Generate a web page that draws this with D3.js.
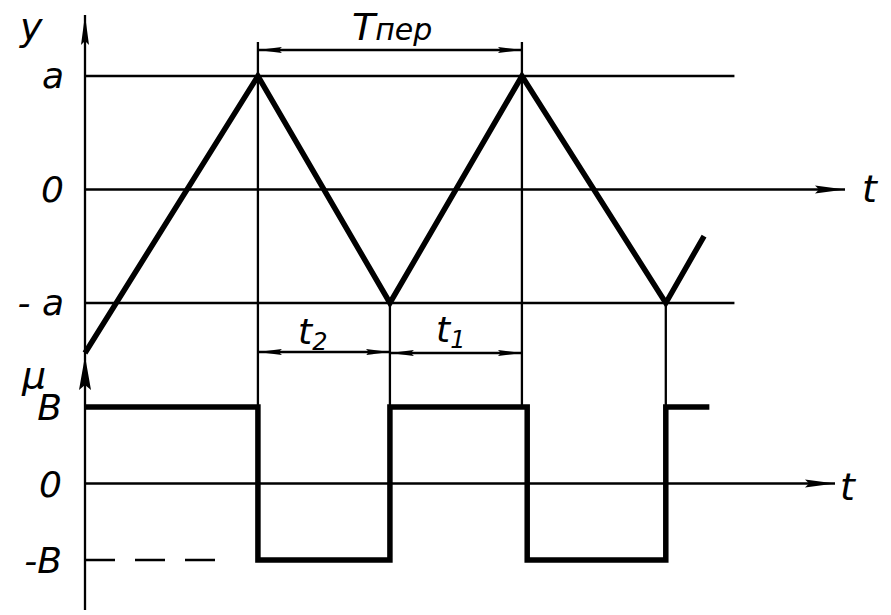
<!DOCTYPE html>
<html><head><meta charset="utf-8">
<script src="https://cdn.jsdelivr.net/npm/d3@7"></script>
<style>body{margin:0;background:#fff}svg{display:block}text{font-family:"DejaVu Sans",sans-serif;font-style:italic;fill:#000}</style>
</head><body>
<script>
// Triangle wave y(t): vertices (time units, amplitude in units of a)
const triT = [0, 1.31, 2.31, 3.31, 4.40, 4.69];
const triY = [-1.44, 1, -1, 1, -1, -0.41];
// Square wave μ(t): switching instants and levels (units of B)
const sqT = [0, 1.31, 2.31, 3.35, 4.40, 4.73];
const sqY = [1, -1, 1, -1, 1];
// Level lines / tick labels
const topTicks = [{v:1,l:"a"},{v:0,l:"0"},{v:-1,l:"- a"}];
const botTicks = [{v:1,l:"B"},{v:0,l:"0"},{v:-1,l:"-B"}];
const periodMarks = {T:[1.31,3.31], t2:[1.31,2.31], t1:[2.31,3.31]};

const W=891,H=615;
const svg=d3.select("body").append("svg").attr("width",W).attr("height",H);
const x=d3.scaleLinear().domain([0,5]).range([85,745]);
const yT=d3.scaleLinear().domain([-1,1]).range([303,76]);
const yB=d3.scaleLinear().domain([-1,1]).range([560,407]);

const defs=svg.append("defs");
defs.append("marker").attr("id","arr").attr("viewBox","0 0 24 8").attr("refX",24).attr("refY",4)
 .attr("markerWidth",24).attr("markerHeight",8).attr("markerUnits","userSpaceOnUse").attr("orient","auto-start-reverse")
 .append("path").attr("d","M0,1 L24,4 L0,7 L3,4 Z").attr("fill","#000");
defs.append("marker").attr("id","big").attr("viewBox","0 0 30 10").attr("refX",30).attr("refY",5)
 .attr("markerWidth",30).attr("markerHeight",10).attr("markerUnits","userSpaceOnUse").attr("orient","auto")
 .append("path").attr("d","M0,1 L30,5 L0,9 L4,5 Z").attr("fill","#000");

const thin=2.3, thick=5.5;
function line(x1,y1,x2,y2,w,extra){const l=svg.append("line").attr("x1",x1).attr("y1",y1).attr("x2",x2).attr("y2",y2)
 .attr("stroke","#000").attr("stroke-width",w).attr("stroke-linecap","butt");if(extra)extra(l);return l;}

// level lines (upper)
line(x(0),yT(1),x(4.92),yT(1),thin);
line(x(0),yT(-1),x(4.92),yT(-1),thin);
line(x(0),yT(0),845,yT(0),thin,l=>l.attr("marker-end","url(#big)"));
// lower zero axis
line(x(0),yB(0),835,yB(0),thin,l=>l.attr("marker-end","url(#big)"));
// dashed -B
line(x(0),yB(-1),235,yB(-1),thin,l=>l.attr("stroke-dasharray","30,20"));

// vertical axis
line(x(0),610,x(0),15,thin,l=>l.attr("marker-end","url(#big)"));

// extension lines
line(x(periodMarks.T[0]),42,x(periodMarks.T[0]),yB(1),thin);
line(x(periodMarks.T[1]),42,x(periodMarks.T[1]),yB(1),thin);
line(x(2.31),yT(-1),x(2.31),yB(1),thin);
line(x(4.40),yT(-1),x(4.40),yB(1),thin);

// dimension arrows
function dim(a,b,yy){line(x(a),yy,x(b),yy,thin,l=>l.attr("marker-start","url(#arr)").attr("marker-end","url(#arr)"));}
dim(periodMarks.T[0],periodMarks.T[1],50);
dim(periodMarks.t2[0],periodMarks.t2[1],352);
dim(periodMarks.t1[0],periodMarks.t1[1],353);

// triangle wave
const tri=triT.map((t,i)=>[t,triY[i]]);
svg.append("path").attr("d",d3.line().x(d=>x(d[0])).y(d=>yT(d[1]))(tri))
 .attr("fill","none").attr("stroke","#000").attr("stroke-width",thick).attr("stroke-linejoin","miter");

// square wave
const sq=[];
sqY.forEach((v,i)=>{sq.push([sqT[i],v]);sq.push([sqT[i+1],v]);});
svg.append("path").attr("d",d3.line().x(d=>x(d[0])).y(d=>yB(d[1]))(sq))
 .attr("fill","none").attr("stroke","#000").attr("stroke-width",thick).attr("stroke-linejoin","miter");

// μ axis arrowhead (drawn on top)
svg.append("path").attr("d",`M${x(0)},356 L${x(0)+6},390 L${x(0)},385 L${x(0)-6},390 Z`).attr("fill","#000");

// labels
const fs=36;
topTicks.forEach(d=>svg.append("text").attr("x",64).attr("y",yT(d.v)+12).attr("text-anchor","end").attr("font-size",fs).text(d.l));
botTicks.forEach(d=>svg.append("text").attr("x",62).attr("y",yB(d.v)+13).attr("text-anchor","end").attr("font-size",fs).text(d.l));
svg.append("text").attr("x",20).attr("y",40).attr("font-size",38).text("y");
svg.append("text").attr("x",22).attr("y",388).attr("font-size",38).text("μ");
svg.append("text").attr("x",862).attr("y",202).attr("font-size",38).text("t");
svg.append("text").attr("x",840).attr("y",500).attr("font-size",38).text("t");
svg.append("text").attr("x",352).attr("y",40).attr("font-size",38).text("T").append("tspan").attr("font-size",30).text("пер");
const t2=svg.append("text").attr("x",298).attr("y",344).attr("font-size",36).text("t");
t2.append("tspan").attr("font-size",24).attr("dy",6).text("2");
const t1=svg.append("text").attr("x",436).attr("y",342).attr("font-size",36).text("t");
t1.append("tspan").attr("font-size",24).attr("dy",6).text("1");
</script>
</body></html>
